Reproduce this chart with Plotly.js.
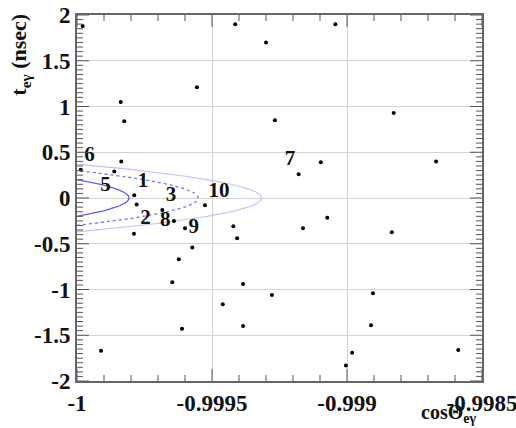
<!DOCTYPE html>
<html>
<head>
<meta charset="utf-8">
<script src="https://cdn.plot.ly/plotly-3.0.1.min.js"></script>
<style>html,body{margin:0;padding:0;background:#fff;}#chart{width:516px;height:428px;}</style>
</head>
<body>
<div id="chart"></div>
<script>
// Event data: cos(theta_e-gamma) and t_e-gamma (nsec)
const cosTheta = [
  -0.999979, -0.999414, -0.999556, -0.999838, -0.999825, -0.999836,
  -0.999986, -0.999862, -0.999788, -0.999779, -0.999684, -0.999526,
  -0.999789, -0.999641, -0.999600, -0.999421, -0.999407, -0.999573,
  -0.999623, -0.999647, -0.999385, -0.999460, -0.999611, -0.999385,
  -0.999911, -0.999043, -0.999300, -0.999267, -0.998827, -0.999179,
  -0.999097, -0.998670, -0.999073, -0.999163, -0.998834, -0.999278,
  -0.998904, -0.998911, -0.998981, -0.999004, -0.998588
];
const tEg = [
   1.88,  1.90,  1.21,  1.05,  0.84,  0.40,
   0.31,  0.29,  0.03, -0.07, -0.13, -0.08,
  -0.39, -0.25, -0.33, -0.31, -0.44, -0.54,
  -0.67, -0.92, -0.94, -1.16, -1.43, -1.40,
  -1.67,  1.90,  1.70,  0.85,  0.93,  0.26,
   0.39,  0.40, -0.215, -0.33, -0.375, -1.06,
  -1.04, -1.39, -1.69, -1.83, -1.66
];
const eventLabels = [
  '', '', '', '', '', '',
  '6', '5', '1', '2', '3', '10',
  '', '8', '9', '', '', '',
  '', '', '', '', '', '',
  '', '', '', '', '', '7',
  '', '', '', '', '', '',
  '', '', '', '', ''
];
// Signal contours: cos tip and half-width in t at cos = -1
const contourTip = [-0.999807, -0.999551, -0.999316];
const contourHalfT = [0.20, 0.30, 0.37];

// Axis ranges and tick labels
const xRange = [-1, -0.9985];
const yRange = [-2, 2];
const xTickVals = [-1, -0.9995, -0.999, -0.9985];
const xTickText = ['-1', '-0.9995', '-0.999', '-0.9985'];
const yTickVals = [-2, -1.5, -1, -0.5, 0, 0.5, 1, 1.5, 2];
const yTickText = ['-2', '-1.5', '-1', '-0.5', '0', '0.5', '1', '1.5', '2'];
const xMinorStep = 0.0001, xMinorPerMajor = 5;
const yMinorStep = 0.05, yMinorPerMajor = 10;

// styles
const contourStyles = [
  {color: 'rgb(95,95,235)', width: 1.3, dash: 'solid'},
  {color: 'rgb(115,115,240)', width: 1.3, dash: 'dot'},
  {color: 'rgb(195,195,252)', width: 1.2, dash: 'solid'}
];
const labelPosMap = {'1':'top right','2':'bottom right','3':'top right','5':'bottom left','6':'top right',
  '7':'top left','8':'middle left','9':'middle right','10':'top right'};
const tickColor = '#555';
const majorLen = 12, minorLen = 6;

const serif = 'Liberation Serif';
const traces = [];
contourTip.forEach((tip, i) => {
  const T = contourHalfT[i];
  const xs = [], ys = [];
  const n = 80;
  for (let k = 0; k <= n; k++) {
    const t = -T + 2 * T * k / n;
    ys.push(t);
    xs.push(-1 + (tip + 1) * (1 - (t / T) * (t / T)));
  }
  traces.push({x: xs, y: ys, type: 'scatter', mode: 'lines', line: contourStyles[i], hoverinfo: 'skip', showlegend: false});
});
traces.push({
  x: cosTheta, y: tEg, type: 'scatter', mode: 'markers+text',
  marker: {color: '#000', size: 4, symbol: 'circle'},
  text: eventLabels,
  textposition: eventLabels.map(l => labelPosMap[l] || 'top right'),
  textfont: {family: serif, size: 21, color: '#111', weight: 'bold'},
  cliponaxis: false,
  showlegend: false
});

// Tick marks on all four frame sides, placed at the axis tick values
const shapes = [];
const nx = Math.round((xRange[1] - xRange[0]) / xMinorStep);
for (let k = 0; k <= nx; k++) {
  const v = xRange[0] + k * xMinorStep;
  const len = (k % xMinorPerMajor === 0) ? majorLen : minorLen;
  [[0, 1], [1, -1]].forEach(([anchor, dir]) => {
    shapes.push({type: 'line', xref: 'x', yref: 'paper', ysizemode: 'pixel', yanchor: anchor,
      x0: v, x1: v, y0: 0, y1: dir * len, line: {color: tickColor, width: 1}, layer: 'above'});
  });
}
const ny = Math.round((yRange[1] - yRange[0]) / yMinorStep);
for (let k = 0; k <= ny; k++) {
  const v = yRange[0] + k * yMinorStep;
  const len = (k % yMinorPerMajor === 0) ? majorLen : minorLen;
  [[0, 1], [1, -1]].forEach(([anchor, dir]) => {
    shapes.push({type: 'line', yref: 'y', xref: 'paper', xsizemode: 'pixel', xanchor: anchor,
      y0: v, y1: v, x0: 0, x1: dir * len, line: {color: tickColor, width: 1}, layer: 'above'});
  });
}

const tickFont = {family: serif, size: 23, color: '#111', weight: 'bold'};
const layout = {
  width: 516, height: 428,
  margin: {l: 77, r: 34, t: 15, b: 47},
  paper_bgcolor: '#fff', plot_bgcolor: '#fff',
  showlegend: false,
  xaxis: {
    range: xRange, tickmode: 'array', tickvals: xTickVals, ticktext: xTickText,
    ticks: '', showline: true, linecolor: '#666', linewidth: 2, mirror: true,
    showgrid: true, gridcolor: '#d4d4d4', gridwidth: 1, zeroline: false,
    tickfont: tickFont, ticklabeloverflow: 'allow'
  },
  yaxis: {
    range: yRange, tickmode: 'array', tickvals: yTickVals, ticktext: yTickText,
    ticks: '', showline: true, linecolor: '#666', linewidth: 2, mirror: true,
    showgrid: true, gridcolor: '#d4d4d4', gridwidth: 1, zeroline: false,
    tickfont: tickFont, ticklabeloverflow: 'allow'
  },
  shapes: shapes,
  annotations: [
    {text: 't<sub>eγ</sub> (nsec)', xref: 'paper', yref: 'paper', x: -0.14, y: 1.01,
     xanchor: 'center', yanchor: 'top', textangle: -90, showarrow: false,
     font: {family: serif, size: 22, color: '#111', weight: 'bold'}},
    {text: 'cosΘ<sub>eγ</sub>', xref: 'paper', yref: 'paper', x: 0.99, y: -0.128,
     xanchor: 'right', yanchor: 'bottom', showarrow: false,
     font: {family: serif, size: 20, color: '#111', weight: 'bold'}}
  ]
};
Plotly.newPlot('chart', traces, layout, {displayModeBar: false, staticPlot: true});
</script>
</body>
</html>
